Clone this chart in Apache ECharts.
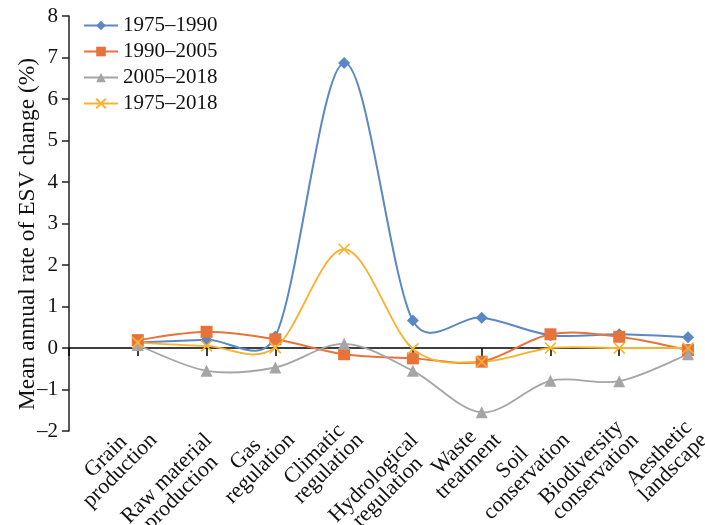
<!DOCTYPE html>
<html>
<head>
<meta charset="utf-8">
<script src="https://cdn.jsdelivr.net/npm/echarts@6/dist/echarts.min.js"></script>
<style>
  html, body { margin: 0; padding: 0; background: #fff; }
  #chartmain_line { width: 705px; height: 525px; }
</style>
</head>
<body>
<div id="chartmain_line"></div>
<script>
// categories (two-line labels) and series values
const categories = ['Grain\nproduction', 'Raw material\nproduction', 'Gas\nregulation', 'Climatic\nregulation',
    'Hydrological\nregulation', 'Waste\ntreatment', 'Soil\nconservation', 'Biodiversity\nconservation', 'Aesthetic\nlandscape'];
const seriesNames = ['1975\u20131990', '1990\u20132005', '2005\u20132018', '1975\u20132018'];
const v1975_1990 = [0.13, 0.20, 0.28, 6.87, 0.66, 0.73, 0.31, 0.33, 0.26];
const v1990_2005 = [0.19, 0.39, 0.21, -0.15, -0.25, -0.33, 0.33, 0.27, -0.05];
const v2005_2018 = [0.07, -0.55, -0.47, 0.10, -0.55, -1.55, -0.79, -0.80, -0.15];
const v1975_2018 = [0.13, 0.05, 0.01, 2.38, -0.02, -0.33, 0.00, 0.00, 0.00];
const yMin = -2, yMax = 8, yStep = 1;

const FONT = '"Liberation Serif", "Times New Roman", serif';
const LABEL_SIZE = 22;
const chart = echarts.init(document.getElementById('chartmain_line'));

// category i sits at x = i + 1 (the axis starts one slot before the first category)
const toPoints = arr => arr.map((v, i) => [i + 1, v]);

// rotated two-line labels: the lines are centred on each other; labels whose first
// line is the longer one sit a little lower/left, as in the original
const ctx = document.createElement('canvas').getContext('2d');
ctx.font = LABEL_SIZE + 'px ' + FONT;
function labelText(c) {
    const lines = c.split('\n');
    if (ctx.measureText(lines[0]).width >= ctx.measureText(lines[1]).width) {
        return lines.map(s => '{a|' + s + '}{s| }').join('\n');
    }
    return lines.map(s => '{a|' + s + '}').concat(['{a| }']).join('\n');
}

// spreadsheet-style smoothed line: one bezier per segment, control points from the neighbours
function curveSeries(name, values, color, width) {
    const pts = toPoints(values);
    const dist = (a, b) => Math.hypot(b[0] - a[0], b[1] - a[1]);
    return {
        type: 'custom',
        name: name + ' curve',
        xAxisIndex: 0,
        yAxisIndex: 0,
        z: 1,
        silent: true,
        data: pts,
        renderItem: function (params, api) {
            const i = params.dataIndex;
            if (i >= pts.length - 1) return null;
            const at = j => api.coord(pts[Math.max(0, Math.min(pts.length - 1, j))]);
            const p0 = at(i - 1), p1 = at(i), p2 = at(i + 1), p3 = at(i + 2);
            const d02 = dist(p0, p2), d12 = dist(p1, p2), d13 = dist(p1, p3);
            const f0 = d02 / 6 < d12 / 2 ? 1 / 6 : d12 / d02 / 2;
            const f1 = d13 / 6 < d12 / 2 ? 1 / 6 : d12 / d13 / 2;
            return {
                type: 'bezierCurve',
                shape: {
                    x1: p1[0], y1: p1[1],
                    cpx1: p1[0] + f0 * (p2[0] - p0[0]), cpy1: p1[1] + f0 * (p2[1] - p0[1]),
                    cpx2: p2[0] - f1 * (p3[0] - p1[0]), cpy2: p2[1] - f1 * (p3[1] - p1[1]),
                    x2: p2[0], y2: p2[1]
                },
                style: { stroke: color, lineWidth: width, fill: null }
            };
        }
    };
}

// markers (and legend entries); the connecting curve comes from curveSeries
function markerSeries(name, values, color, symbol, size, width) {
    return {
        name: name,
        type: 'line',
        xAxisIndex: 0,
        yAxisIndex: 0,
        z: 3,
        data: toPoints(values),
        symbol: symbol,
        symbolSize: size,
        showSymbol: true,
        lineStyle: { color: color, width: width, opacity: 0 },
        itemStyle: { color: color, borderColor: color, borderWidth: symbol.indexOf('path://') === 0 ? 1.6 : 0 }
    };
}

const seriesStyles = [
    { values: v1975_1990, color: '#5B87C5', symbol: 'diamond', size: 12, width: 2 },
    { values: v1990_2005, color: '#E8733A', symbol: 'rect', size: 12, width: 2 },
    { values: v2005_2018, color: '#A5A5A5', symbol: 'triangle', size: 12, width: 1.8 },
    { values: v1975_2018, color: '#F8B22E', symbol: 'path://M0,0L10,10M10,0L0,10', size: 11, width: 1.8 }
];

const option = {
    backgroundColor: '#fff',
    animation: false,
    textStyle: { fontFamily: FONT },
    grid: [
        { left: 69, right: 17, top: 16, bottom: 94, outerBoundsMode: 'none' },
        // label grid: same axis length, moved right so the rotated labels sit right of their ticks
        { left: 85, right: 1, top: 16, bottom: 94, outerBoundsMode: 'none' }
    ],
    legend: {
        orient: 'vertical',
        left: 78,
        top: 10,
        itemGap: 5,
        itemWidth: 34,
        itemHeight: 12,
        lineStyle: { opacity: 1 },
        textStyle: { fontFamily: FONT, fontSize: 21, color: '#111' },
        data: seriesNames
    },
    xAxis: [
        {
            // zero line with tick marks
            type: 'value',
            gridIndex: 0,
            min: 0,
            max: categories.length,
            interval: 1,
            position: 'bottom',
            axisLine: { onZero: true, lineStyle: { color: '#000', width: 1.5 } },
            axisTick: { show: true, length: 8, lineStyle: { color: '#000', width: 1.5 } },
            axisLabel: { show: false },
            splitLine: { show: false }
        },
        {
            // category labels below the plot (first slot left empty, as on the data axis)
            type: 'category',
            gridIndex: 1,
            data: [''].concat(categories),
            boundaryGap: false,
            position: 'bottom',
            axisLine: { show: false, onZero: false },
            axisTick: { show: false },
            splitLine: { show: false },
            axisLabel: {
                show: true,
                interval: 0,
                rotate: 45,
                margin: 6,
                formatter: function (c) {
                    return c ? labelText(c) : '';
                },
                rich: {
                    a: { align: 'center', fontFamily: FONT, fontSize: LABEL_SIZE, lineHeight: 20, color: '#111' },
                    s: { align: 'right', width: 10, fontFamily: FONT, fontSize: LABEL_SIZE, lineHeight: 20 }
                }
            }
        }
    ],
    yAxis: [
        {
            type: 'value',
            gridIndex: 0,
            min: yMin,
            max: yMax,
            interval: yStep,
            name: 'Mean annual rate of ESV change (%)',
            nameLocation: 'middle',
            nameGap: 29,
            nameMoveOverlap: false,
            nameTextStyle: { fontFamily: FONT, fontSize: 23.5, color: '#111', padding: [0, 21, 0, 0] },
            axisLine: { show: true, onZero: false, lineStyle: { color: '#222', width: 1.5 } },
            axisTick: { show: true, length: 7, lineStyle: { color: '#222', width: 1.5 } },
            axisLabel: {
                margin: 11,
                fontFamily: FONT,
                fontSize: 21,
                color: '#111',
                formatter: v => String(v).replace('-', '\u2013')
            },
            splitLine: { show: false }
        },
        {
            type: 'value',
            gridIndex: 1,
            min: yMin,
            max: yMax,
            show: false
        }
    ],
    series: seriesStyles.map((s, k) => markerSeries(seriesNames[k], s.values, s.color, s.symbol, s.size, s.width))
        .concat(seriesStyles.map((s, k) => curveSeries(seriesNames[k], s.values, s.color, s.width)))
};

chart.setOption(option);
window.addEventListener('resize', function () {
    chart.resize();
});
</script>
</body>
</html>
